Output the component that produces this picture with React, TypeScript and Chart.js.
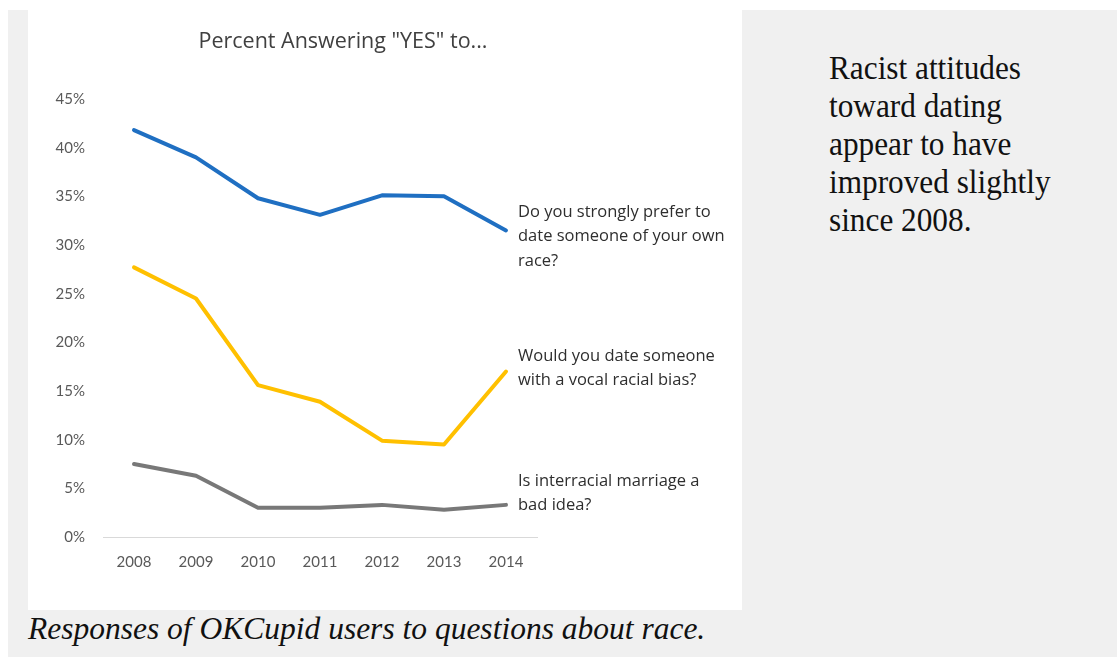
import React, { useEffect, useRef } from 'react';
import { Chart, registerables } from 'chart.js';

Chart.register(...registerables);

const years = ['2008', '2009', '2010', '2011', '2012', '2013', '2014'];
const ownRace = [41.8, 39.0, 34.8, 33.1, 35.1, 35.0, 31.5];
const vocalBias = [27.7, 24.5, 15.6, 13.9, 9.9, 9.5, 17.0];
const interracial = [7.5, 6.3, 3.0, 3.0, 3.3, 2.8, 3.3];
const seriesColors = ['#1f6fc2', '#ffc000', '#787878'];
const seriesLabels = [
  ['Do you strongly prefer to', 'date someone of your own', 'race?'],
  ['Would you date someone', 'with a vocal racial bias?'],
  ['Is interracial marriage a', 'bad idea?'],
];
const chartTitle = 'Percent Answering "YES" to...';
const sideNote = ['Racist attitudes', 'toward dating', 'appear to have', 'improved slightly', 'since 2008.'];
const caption = 'Responses of OKCupid users to questions about race.';

const TICK_FONT = 'Lato, "Open Sans", sans-serif';
const TEXT_FONT = '"Open Sans", Lato, sans-serif';

const labelPlugin = {
  id: 'seriesLabels',
  afterDraw(chart: any, _args: any, opts: any) {
    const ctx = chart.ctx;
    const xs = chart.scales.x;
    const ys = chart.scales.y;
    ctx.save();
    // title
    ctx.font = `21.5px ${TEXT_FONT}`;
    ctx.fillStyle = '#404040';
    ctx.textAlign = 'center';
    ctx.textBaseline = 'alphabetic';
    ctx.fillText(chartTitle, 315, 38);
    // series labels
    ctx.font = `16.5px ${TEXT_FONT}`;
    ctx.fillStyle = '#2e2e2e';
    ctx.textAlign = 'left';
    ctx.textBaseline = 'middle';
    const x = xs.getPixelForValue(years.length - 1) + 12;
    seriesLabels.forEach((lines, i) => {
      const y0 = ys.getPixelForValue(opts.anchors[i]);
      lines.forEach((t, j) => ctx.fillText(t, x, y0 + j * 24.5));
    });
    ctx.restore();
  },
};

export default function App() {
  const ref = useRef<HTMLCanvasElement>(null);
  useEffect(() => {
    const chart = new Chart(ref.current!, {
      type: 'line',
      data: {
        labels: years,
        datasets: [ownRace, vocalBias, interracial].map((d, i) => ({
          label: seriesLabels[i].join(' '),
          data: d,
          borderColor: seriesColors[i],
          backgroundColor: seriesColors[i],
          borderWidth: 4,
          pointRadius: 0,
          tension: 0,
          borderCapStyle: 'round',
          borderJoinStyle: 'round',
        })),
      },
      options: {
        animation: false,
        responsive: false,
        devicePixelRatio: 1,
        layout: { padding: { left: 0, right: 205, top: 89, bottom: 0 } },
        plugins: {
          legend: { display: false },
          tooltip: { enabled: false },
          seriesLabels: { anchors: [33.4, 18.6, 5.75] },
        } as any,
        scales: {
          x: {
            offset: true,
            grid: { display: false, drawTicks: false },
            border: { display: true, color: '#d9d9d9', width: 1 },
            ticks: { color: '#595959', font: { family: TICK_FONT, size: 15 }, padding: 16 },
            afterFit: (s: any) => { s.height = 73; },
          },
          y: {
            min: 0,
            max: 45,
            grid: { display: false, drawTicks: false },
            border: { display: false },
            ticks: {
              stepSize: 5,
              color: '#595959',
              font: { family: TICK_FONT, size: 15 },
              padding: 18,
              callback: (v: any) => `${v}%`,
            },
            afterFit: (s: any) => { s.width = 75; },
          },
        },
      },
      plugins: [labelPlugin],
    });
    return () => chart.destroy();
  }, []);

  return (
    <div style={{ position: 'absolute', left: 0, top: 0, width: 1117, height: 657, background: '#fff', overflow: 'hidden' }}>
      <div style={{ position: 'absolute', left: 8, top: 10, right: 0, bottom: 0, background: '#f0f0f0' }} />
      <div style={{ position: 'absolute', left: 28, top: 10, width: 714, height: 600, background: '#fff' }}>
        <canvas ref={ref} width={714} height={600} style={{ display: 'block', width: 714, height: 600 }} />
      </div>
      <div style={{ position: 'absolute', left: 829, top: 48.5, font: '34px "Liberation Serif", "Times New Roman", serif', lineHeight: '38px', color: '#111', whiteSpace: 'nowrap', transform: 'scaleX(0.92)', transformOrigin: 'left top' }}>
        {sideNote.map((l, i) => (<div key={i}>{l}</div>))}
      </div>
      <div style={{ position: 'absolute', left: 28, top: 610.5, font: 'italic 31.5px "Liberation Serif", "Times New Roman", serif', lineHeight: '36px', color: '#111', whiteSpace: 'nowrap' }}>
        {caption}
      </div>
    </div>
  );
}
